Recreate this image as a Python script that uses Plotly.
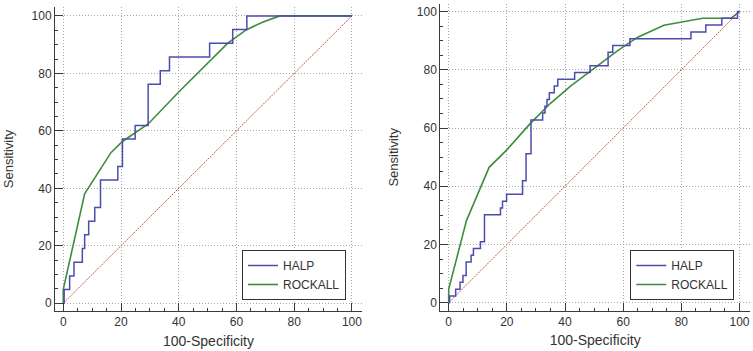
import plotly.graph_objects as go

# ---------------- data ----------------
# Left panel
left_halp_x = [0, 0.3, 2.2, 3.7, 6.6, 7.4, 8.8, 10.9, 12.9, 18.9, 20.5, 24.9, 29.4, 33.6, 36.8, 50.7, 58.7, 63.6, 100]
left_halp_y = [0, 4.76, 9.52, 14.29, 19.05, 23.81, 28.57, 33.33, 42.86, 47.62, 57.14, 61.90, 76.19, 80.95, 85.71, 90.48, 95.24, 100, 100]
left_rock_x = [0, 0, 7.4, 16.5, 20.5, 29.4, 40, 50, 57, 63.5, 69, 75, 100]
left_rock_y = [0, 4.8, 38.1, 52.4, 56.3, 62.4, 73.5, 83.5, 90.5, 95.2, 97.8, 100, 100]

# Right panel
right_halp_x = [0, 0.3, 2.4, 3.9, 4.9, 6.0, 7.7, 8.5, 10.9, 12.3, 17.8, 18.5, 19.9, 25.4, 26.6, 28.3,
                32.3, 33.1, 33.8, 34.6, 36.3, 37.5, 43.3, 48.6, 54.8, 56.4, 62.3, 83.3, 88.4, 93.9, 99.3, 100]
right_halp_y = [0, 2.33, 4.65, 6.98, 9.30, 13.95, 16.28, 18.60, 20.93, 30.23, 32.56, 34.88, 37.21, 41.86, 51.16, 62.79,
                65.12, 67.44, 69.77, 72.09, 74.42, 76.74, 79.07, 81.40, 86.05, 88.37, 90.70, 93.02, 95.35, 97.67, 100, 100]
right_rock_x = [0, 0, 6.1, 13.9, 20, 28, 35, 42, 50, 58, 65, 74, 87.3, 97, 100]
right_rock_y = [0, 4.7, 28.2, 46.5, 52.5, 61.5, 68.5, 74.5, 80.5, 86.5, 91.2, 95.3, 97.7, 97.7, 100]

ref_line = [0, 100]
tick_vals = [0, 20, 40, 60, 80, 100]
tick_text = ["0", "20", "40", "60", "80", "100"]
series_names = ["HALP", "ROCKALL"]

# ---------------- style ----------------
HALP_COLOR = "rgb(76,76,172)"
ROCK_COLOR = "rgb(62,140,62)"
DIAG_COLOR = "rgb(196,88,78)"
AX_COLOR = "#3a3a3a"
GRID_COLOR = "#a8a8a8"
FONT = "Liberation Sans, Arial, sans-serif"

fig = go.Figure()

panels = [
    (left_halp_x, left_halp_y, left_rock_x, left_rock_y, "x", "y", "legend"),
    (right_halp_x, right_halp_y, right_rock_x, right_rock_y, "x2", "y2", "legend2"),
]
for hx, hy, rx, ry, xa, ya, lg in panels:
    fig.add_trace(go.Scatter(x=ref_line, y=ref_line, mode="lines", xaxis=xa, yaxis=ya,
                             line=dict(color=DIAG_COLOR, width=1, dash="2px,1px"),
                             showlegend=False, hoverinfo="skip"))
    fig.add_trace(go.Scatter(x=rx, y=ry, mode="lines", name=series_names[1], xaxis=xa, yaxis=ya,
                             line=dict(color=ROCK_COLOR, width=1.6), legend=lg, legendrank=2))
    fig.add_trace(go.Scatter(x=hx, y=hy, mode="lines", name=series_names[0], xaxis=xa, yaxis=ya,
                             line=dict(color=HALP_COLOR, width=1.5, shape="hv"), legend=lg, legendrank=1))

W, H = 753, 351


def common_axis():
    return dict(showline=True, linecolor=AX_COLOR, linewidth=1, mirror=False,
                ticks="inside", ticklen=8, tickcolor=AX_COLOR, tickwidth=1,
                tickvals=tick_vals, ticktext=tick_text,
                minor=dict(ticks="inside", ticklen=3, dtick=5, tick0=0, tickcolor=AX_COLOR, showgrid=False),
                showgrid=True, gridcolor=GRID_COLOR, griddash="1px,2px", gridwidth=1,
                zeroline=False, tickfont=dict(family=FONT, size=12, color="#333"),
                fixedrange=True)


def xax(px0, px1, rng, anchor):
    d = common_axis()
    d.update(domain=[px0 / W, px1 / W], range=rng, anchor=anchor,
             title=dict(text="100-Specificity", font=dict(family=FONT, size=14, color="#333"), standoff=7))
    return d


def yax(py_top, py_bot, rng, anchor):
    d = common_axis()
    d.update(domain=[(H - py_bot) / H, (H - py_top) / H], range=rng, anchor=anchor,
             title=dict(text="Sensitivity", font=dict(family=FONT, size=13, color="#333"), standoff=15))
    return d


legend_common = dict(bgcolor="white", bordercolor="#333", borderwidth=1,
                     font=dict(family=FONT, size=12, color="#333"),
                     xanchor="right", yanchor="bottom", tracegroupgap=0)

fig.update_layout(
    width=W, height=H,
    margin=dict(l=0, r=0, t=0, b=0),
    paper_bgcolor="white", plot_bgcolor="white",
    font=dict(family=FONT, size=12, color="#333"),
    xaxis=xax(55, 362, [-2.87, 103.5], "y"),
    yaxis=yax(7, 311, [-2.7, 103.1], "x"),
    xaxis2=xax(440.3, 750, [-2.89, 103.6], "y2"),
    yaxis2=yax(4, 310.7, [-2.75, 102.6], "x2"),
    legend=dict(x=346 / W, y=(H - 300) / H, **legend_common),
    legend2=dict(x=734.3 / W, y=(H - 300) / H, **legend_common),
    showlegend=True,
)

fig.write_html(
    "out.html",
    config={"displayModeBar": False, "staticPlot": True},
    post_script="document.body.style.margin='0';document.body.style.padding='0';"
                "document.documentElement.style.overflow='hidden';",
)
